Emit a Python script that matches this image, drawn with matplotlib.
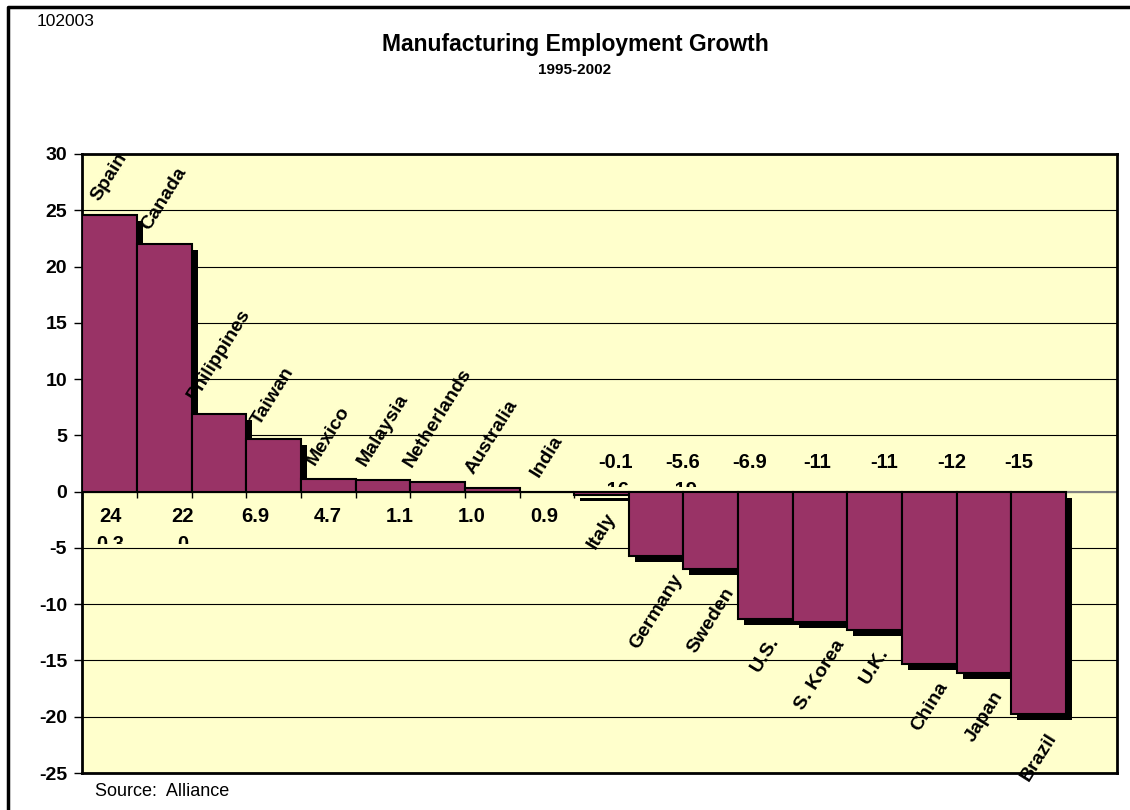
import matplotlib
matplotlib.use("Agg")
import matplotlib.pyplot as plt
from matplotlib.transforms import offset_copy, Bbox, TransformedBbox
from matplotlib.lines import Line2D

plt.rcParams['font.family'] = ['Liberation Sans', 'DejaVu Sans']

# ---------------- data ----------------
countries = ["Spain", "Canada", "Philippines", "Taiwan", "Mexico", "Malaysia",
             "Netherlands", "Australia", "India", "Italy", "Germany", "Sweden",
             "U.S.", "S. Korea", "U.K.", "China", "Japan", "Brazil"]
growth = [24.6, 22.0, 6.9, 4.7, 1.1, 1.0, 0.9, 0.3, 0.0, -0.3, -5.7, -6.9,
          -11.3, -11.6, -12.3, -15.3, -16.1, -19.8]
pos_value_labels = ["24", "22", "6.9", "4.7", "1.1", "1.0", "0.9", "0.3", "0"]
neg_value_labels = ["-0.1", "-5.6", "-6.9", "-11", "-11", "-12", "-15", "-16", "-19"]
y_ticks = [-25, -20, -15, -10, -5, 0, 5, 10, 15, 20, 25, 30]
title = "Manufacturing Employment Growth"
subtitle = "1995-2002"
code_label = "102003"
source = "Source:  Alliance"

# ---------------- style ----------------
BAR = "#993366"
BG = "#FFFFCC"
W, H, DPI = 1130, 810, 100

fig = plt.figure(figsize=(W / DPI, H / DPI), dpi=DPI)
ax_left, ax_right, ax_top, ax_bot = 82.3, 1117, 154, 773
ax = fig.add_axes([ax_left / W, 1 - ax_bot / H, (ax_right - ax_left) / W, (ax_bot - ax_top) / H])
ax.set_facecolor(BG)

n = len(countries)
bar_px = 54.65
ax.set_xlim(-0.5, -0.5 + (ax_right - ax_left) / bar_px)
ax.set_ylim(y_ticks[0], y_ticks[-1])
px_per_unit = (ax_bot - ax_top) / (y_ticks[-1] - y_ticks[0])

# grid + zero line
ax.set_yticks(y_ticks)
ax.set_yticklabels([str(t) for t in y_ticks], fontsize=14, fontweight="bold")
ax.tick_params(axis="y", direction="out", length=6, width=1, pad=5, colors="black")
ax.set_xticks([])
ax.yaxis.grid(True, color="black", lw=0.8)
ax.set_axisbelow(True)
ax.axhline(0, color="#808080", lw=1.5, zorder=1.5)
for s in ax.spines.values():
    s.set_linewidth(2)
    s.set_color("black")

# category boundary ticks on zero line
tick_len = 6 / px_per_unit
ax.vlines([i + 0.5 for i in range(-1, n - 1)], -tick_len, 0, color="black", lw=1, zorder=1.6)

xs = list(range(n))
# shadows
sh = 6
dy = sh / px_per_unit
shadow_tr = offset_copy(ax.transData, fig=fig, x=sh, y=-sh, units="dots")
sh_bottom = [dy if v >= 0 else 0 for v in growth]
sh_height = [max(v - dy, 0) if v >= 0 else v for v in growth]
ax.bar(xs, sh_height, bottom=sh_bottom, width=1.0, color="black", lw=0,
       transform=shadow_tr, zorder=2)
# bars
ax.bar(xs, growth, width=1.0, color=BAR, edgecolor="black", lw=1.5, zorder=3)

# category labels
for i, (c, v) in enumerate(zip(countries, growth)):
    if v >= 0:
        ax.annotate(c, (i, v), xytext=(0, 8), textcoords="offset points",
                    ha="center", va="bottom", rotation=58, fontsize=14,
                    fontweight="bold", zorder=5)
    else:
        ax.annotate(c, (i, v), xytext=(0, -11), textcoords="offset points",
                    ha="center", va="top", rotation=58, fontsize=14,
                    fontweight="bold", zorder=5)

# value label blocks (wrapped, partly clipped rows)
per_row = 7
row_gap = 28 / px_per_unit
zero_px = ax_top + y_ticks[-1] * px_per_unit


def label_block(labels, x0_px, step_px, y_center_px, clip_y):
    x0 = -0.5 + (x0_px - ax_left) / bar_px
    step = step_px / bar_px
    yc = -(y_center_px - zero_px) / px_per_unit
    for k, s in enumerate(labels):
        r, c = divmod(k, per_row)
        t = ax.text(x0 + c * step, yc - r * row_gap, s, ha="center", va="center",
                    fontsize=14.5, fontweight="bold", zorder=6)
        if r > 0:
            bb = Bbox([[-0.5, clip_y], [n + 1, y_ticks[-1]]])
            t.set_clip_box(TransformedBbox(bb, ax.transData))
            t.set_clip_on(True)


label_block(pos_value_labels, 110.6, 72.3, 517, -(543.5 - zero_px) / px_per_unit)
label_block(neg_value_labels, 615.1, 67.3, 463, (zero_px - 487.5) / px_per_unit)

# titles and notes
fig.text(575 / W, 1 - 45 / H, title, ha="center", va="center", fontsize=16.5, fontweight="bold")
fig.text(575 / W, 1 - 70 / H, subtitle, ha="center", va="center", fontsize=11, fontweight="bold")
fig.text(37 / W, 1 - 22 / H, code_label, ha="left", va="center", fontsize=12.5)
fig.text(95 / W, 1 - 791 / H, source, ha="left", va="center", fontsize=13)

# outer frame (top and left visible)
fig.add_artist(Line2D([8 / W, 8 / W, 1.0], [0, 1 - 6.5 / H, 1 - 6.5 / H],
                      transform=fig.transFigure, color="black", lw=2.5))

fig.savefig("out.png", dpi=DPI, facecolor="white")
